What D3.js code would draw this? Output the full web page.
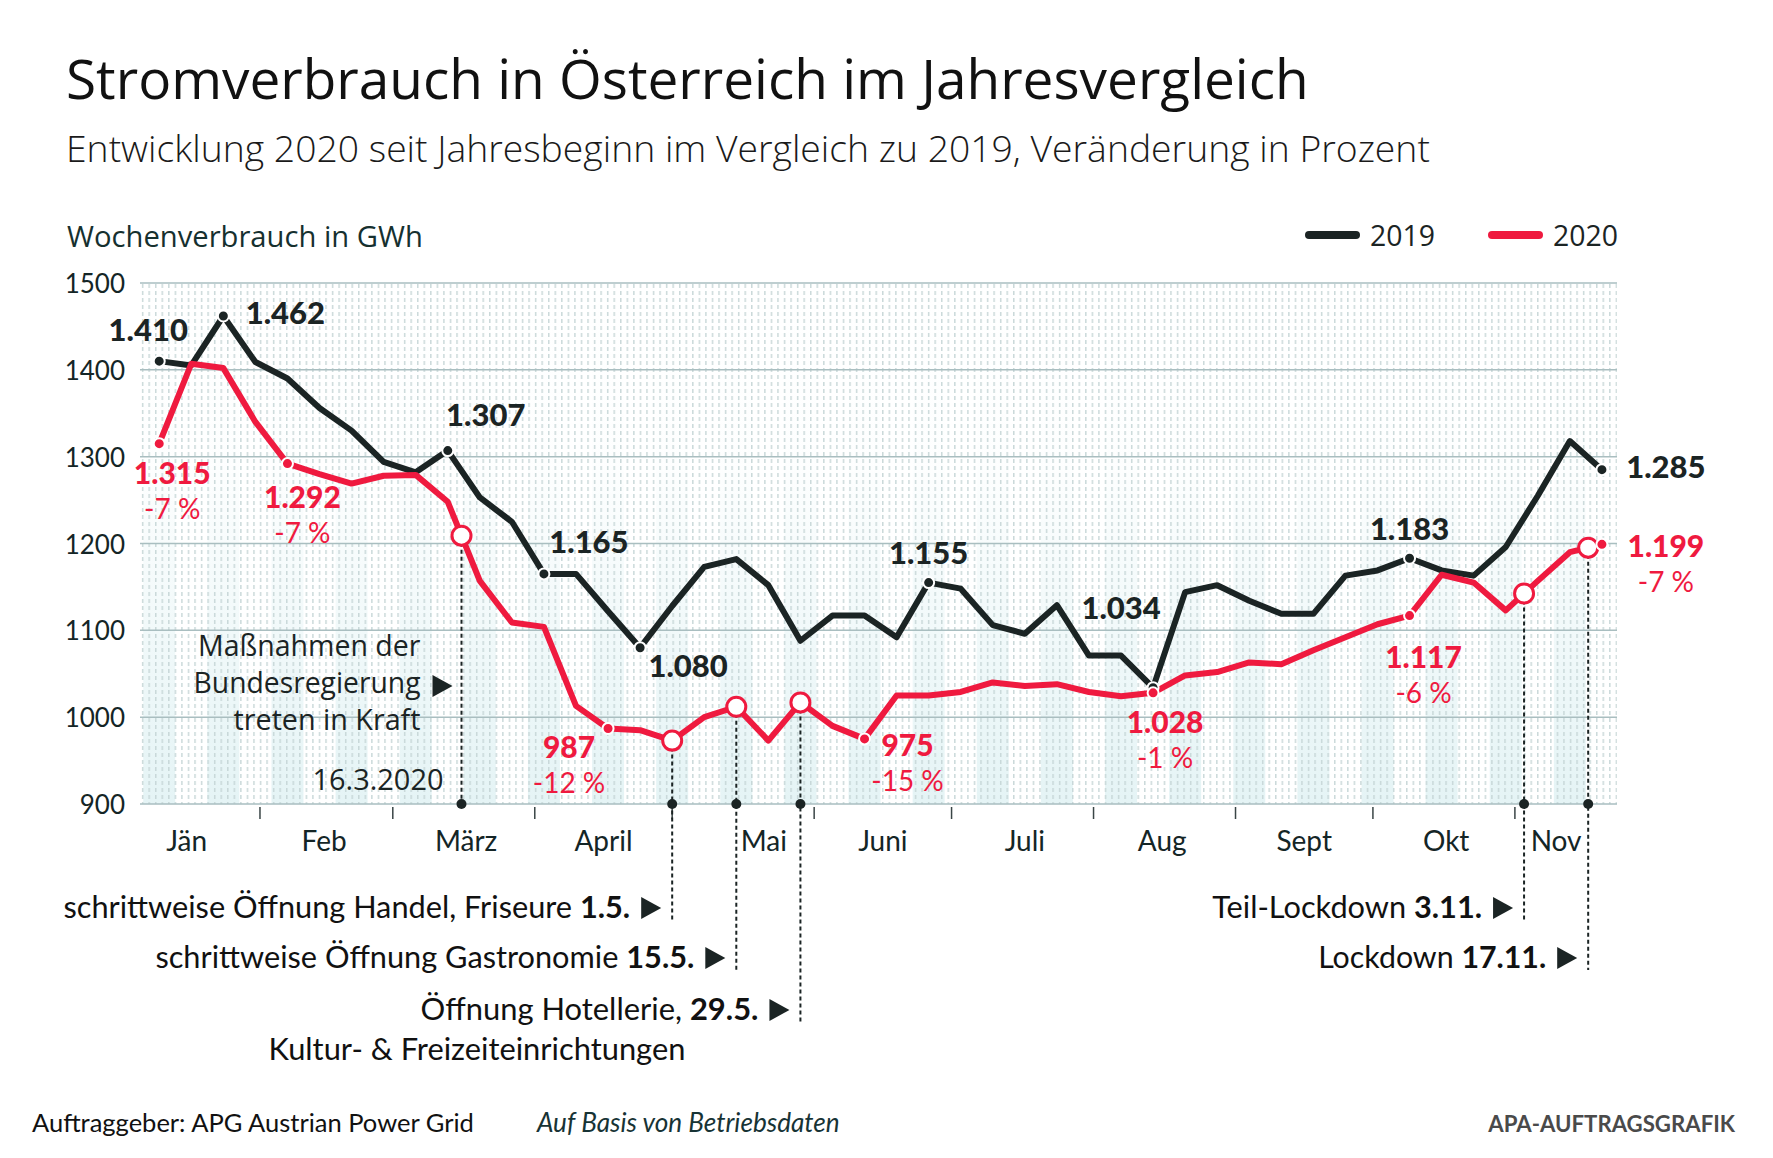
<!DOCTYPE html>
<html>
<head>
<meta charset="utf-8">
<script src="https://cdn.jsdelivr.net/npm/d3@7"></script>
<style>
body { margin: 0; background: #fff; }
svg { display: block; }
</style>
</head>
<body>
<div id="chart"></div>
<script>
// weekly consumption in GWh, first value = week ending around 10 Jan
const firstWeek = new Date(Date.UTC(2020, 0, 10));
const consumption2019 = [1410, 1405, 1462, 1409, 1390, 1356, 1330, 1294, 1282, 1307, 1253, 1225, 1165, 1165, 1122, 1080,
    1128, 1173, 1182, 1152, 1088, 1117, 1117, 1092, 1155, 1148, 1106, 1096, 1129, 1071, 1071, 1034,
    1144, 1152, 1134, 1119, 1119, 1163, 1169, 1183, 1169, 1163, 1196, 1255, 1318, 1285];
const consumption2020 = [1315, 1407, 1402, 1340, 1292, 1280, 1269, 1278, 1279, 1248, 1157, 1109, 1104, 1013, 987, 985,
    973, 1000, 1012, 973, 1017, 990, 975, 1025, 1025, 1029, 1040, 1036, 1038, 1029, 1024, 1028,
    1048, 1052, 1063, 1061, 1077, 1092, 1107, 1117, 1164, 1155, 1123, 1157, 1190, 1199];
const weeks = consumption2019.map((d, i) => d3.utcDay.offset(firstWeek, 7 * i));

const yTicks = [900, 1000, 1100, 1200, 1300, 1400, 1500];
const monthNames = ["Jän", "Feb", "März", "April", "Mai", "Juni", "Juli", "Aug", "Sept", "Okt", "Nov"];
const monthLabelDates = ["2020-01-16", "2020-02-15", "2020-03-17", "2020-04-16", "2020-05-21", "2020-06-16",
    "2020-07-17", "2020-08-16", "2020-09-16", "2020-10-17", "2020-11-10"];

// labelled points (index into the weekly series)
const labelled2019 = [0, 2, 9, 12, 15, 24, 31, 39, 45];
const labelled2020 = [0, 4, 14, 22, 31, 39, 45];
const change2020 = ["-7 %", "-7 %", "-12 %", "-15 %", "-1 %", "-6 %", "-7 %"];

const measuresNote = ["Maßnahmen der", "Bundesregierung", "treten in Kraft"];
const events = [
    { date: "2020-03-16", label: "16.3.2020" },
    { date: "2020-05-01", text: "schrittweise Öffnung Handel, Friseure ", bold: "1.5.", row: 0 },
    { date: "2020-05-15", text: "schrittweise Öffnung Gastronomie ", bold: "15.5.", row: 1 },
    { date: "2020-05-29", text: "Öffnung Hotellerie,  ", bold: "29.5.", row: 2, extra: "Kultur- & Freizeiteinrichtungen" },
    { date: "2020-11-03", text: "Teil-Lockdown ", bold: "3.11.", row: 0 },
    { date: "2020-11-17", text: "Lockdown ", bold: "17.11.", row: 1 }
];

// layout
const W = 1773, H = 1158;
const plot = { left: 140, right: 1617, top: 283, bottom: 804 };
const rowY = [918, 968, 1020];
const off2019 = [[-11, -20], [62, 8], [38, -25], [45, -21], [48, 29], [0, -19], [-32, -69], [0, -18], [64, 8]];
const off2020 = [[13, 40], [15, 44], [-39, 30], [43, 17], [12, 40], [14, 52], [64, 13]];
const pctGap = 35;
const BLACK = "#1b2424", RED = "#ef1a3f", GRID = "#a9bec0";
const BODY = "Lato, 'Open Sans', sans-serif", GEO = "'Open Sans', Lato, sans-serif";

const svg = d3.select("#chart").append("svg").attr("width", W).attr("height", H);

// widths measured on the original, used to tune font sizes
function fit(sel, w) {
    const cur = sel.node().getBBox().width;
    const fs = parseFloat(sel.attr("font-size"));
    let k = w / cur;
    k = Math.max(0.8, Math.min(1.2, k));
    sel.attr("font-size", (fs * k).toFixed(2));
    return sel;
}

const x = d3.scaleUtc()
    .domain([new Date(Date.UTC(2020, 0, 1)), new Date(Date.UTC(2020, 11, 1))])
    .range([118, 118 + 335 * 4.58]);
const y = d3.scaleLinear().domain([900, 1500]).range([plot.bottom, plot.top]);

function valueAt(values, date) {
    const t = +date;
    let i = d3.bisector(d => +d).right(weeks, t) - 1;
    i = Math.max(0, Math.min(values.length - 2, i));
    const f = (t - weeks[i]) / (weeks[i + 1] - weeks[i]);
    return values[i] + f * (values[i + 1] - values[i]);
}

// ---- defs
const defs = svg.append("defs");
const pat = defs.append("pattern").attr("id", "dots").attr("patternUnits", "userSpaceOnUse")
    .attr("x", plot.left).attr("y", plot.top).attr("width", 6.55).attr("height", 7);
pat.append("rect").attr("x", 2).attr("y", 1).attr("width", 1.3).attr("height", 4).attr("fill", "#c3d3d4");
const grad = defs.append("linearGradient").attr("id", "band").attr("x1", 0).attr("y1", 0).attr("x2", 0).attr("y2", 1);
grad.append("stop").attr("offset", "0").attr("stop-color", "#dcf0f2").attr("stop-opacity", 0);
grad.append("stop").attr("offset", "0.35").attr("stop-color", "#dcf0f2").attr("stop-opacity", 0.05);
grad.append("stop").attr("offset", "1").attr("stop-color", "#dcf0f2").attr("stop-opacity", 0.75);

// ---- header
fit(svg.append("text").attr("x", 66).attr("y", 99).attr("font-family", GEO).attr("font-size", 52)
    .attr("fill", "#111").text("Stromverbrauch in Österreich im Jahresvergleich"), 1243);
fit(svg.append("text").attr("x", 66).attr("y", 162).attr("font-family", GEO).attr("font-size", 33)
    .attr("font-weight", 300).attr("fill", "#1a1a1a")
    .text("Entwicklung 2020 seit Jahresbeginn im Vergleich zu 2019, Veränderung in Prozent"), 1364);
fit(svg.append("text").attr("x", 67).attr("y", 247).attr("font-family", GEO).attr("font-size", 29)
    .attr("fill", "#16302f").text("Wochenverbrauch in GWh"), 356);

// legend
const legend = [{ name: "2019", color: BLACK, x: 1309 }, { name: "2020", color: RED, x: 1492 }];
legend.forEach(l => {
    svg.append("line").attr("x1", l.x).attr("x2", l.x + 47).attr("y1", 235).attr("y2", 235)
        .attr("stroke", l.color).attr("stroke-width", 8).attr("stroke-linecap", "round");
    fit(svg.append("text").attr("x", l.x + 61).attr("y", 246).attr("font-family", GEO).attr("font-size", 29)
        .attr("fill", BLACK).text(l.name), 65);
});

// ---- plot background
const bg = svg.append("g");
bg.selectAll("rect.band").data(weeks.filter((d, i) => i % 2 === 0)).join("rect")
    .attr("class", "band")
    .attr("x", d => Math.max(plot.left, x(d) - 16))
    .attr("width", d => Math.min(plot.right, x(d) + 16) - Math.max(plot.left, x(d) - 16))
    .attr("y", plot.top).attr("height", plot.bottom - plot.top)
    .attr("fill", "url(#band)");
bg.append("rect").attr("x", plot.left).attr("y", plot.top)
    .attr("width", plot.right - plot.left).attr("height", plot.bottom - plot.top)
    .attr("fill", "url(#dots)");
bg.selectAll("line.grid").data(yTicks).join("line").attr("class", "grid")
    .attr("x1", plot.left).attr("x2", plot.right)
    .attr("y1", d => y(d)).attr("y2", d => y(d))
    .attr("stroke", GRID).attr("stroke-width", 1.5);

// y labels
svg.selectAll("text.ylab").data(yTicks).join("text").attr("class", "ylab")
    .attr("x", 125).attr("y", d => y(d) + 10).attr("text-anchor", "end")
    .attr("font-family", BODY).attr("font-size", 26).attr("fill", "#142526").text(d => d);

// month ticks and labels
const monthStarts = d3.utcMonths(new Date(Date.UTC(2020, 1, 1)), new Date(Date.UTC(2020, 11, 1)));
svg.selectAll("line.mtick").data(monthStarts).join("line").attr("class", "mtick")
    .attr("x1", d => x(d)).attr("x2", d => x(d)).attr("y1", 807).attr("y2", 819)
    .attr("stroke", "#3a4546").attr("stroke-width", 1.5);
svg.selectAll("text.mlab").data(monthNames).join("text").attr("class", "mlab")
    .attr("x", (d, i) => x(new Date(monthLabelDates[i] + "T00:00:00Z"))).attr("y", 851)
    .attr("text-anchor", "middle").attr("font-family", BODY).attr("font-size", 28)
    .attr("fill", "#142526").text(d => d);

// ---- event guide lines
const ev = events.map(e => {
    const d = new Date(e.date + "T00:00:00Z");
    return Object.assign({}, e, { d: d, px: x(d), py: y(valueAt(consumption2020, d)) });
});
const guides = svg.append("g");
ev.forEach(e => {
    const yEnd = e.row === undefined ? plot.bottom : rowY[e.row] + 2;
    guides.append("line").attr("x1", e.px).attr("x2", e.px).attr("y1", e.py).attr("y2", yEnd)
        .attr("stroke", BLACK).attr("stroke-width", 2).attr("stroke-dasharray", "4,3");
});

// ---- lines
const line = d3.line().x((d, i) => x(weeks[i])).y(d => y(d)).curve(d3.curveLinear);
svg.append("path").datum(consumption2019).attr("d", line).attr("fill", "none")
    .attr("stroke", BLACK).attr("stroke-width", 6).attr("stroke-linejoin", "round");
svg.append("path").datum(consumption2020).attr("d", line).attr("fill", "none")
    .attr("stroke", RED).attr("stroke-width", 6).attr("stroke-linejoin", "round");

// axis dots of the events
svg.selectAll("circle.axdot").data(ev).join("circle").attr("class", "axdot")
    .attr("cx", d => d.px).attr("cy", plot.bottom).attr("r", 5).attr("fill", BLACK);

// event circles on the 2020 line
svg.selectAll("circle.evc").data(ev).join("circle").attr("class", "evc")
    .attr("cx", d => d.px).attr("cy", d => d.py).attr("r", 9.5)
    .attr("fill", "#fff").attr("stroke", RED).attr("stroke-width", 3);

// point dots
svg.selectAll("circle.p19").data(labelled2019).join("circle").attr("class", "p19")
    .attr("cx", i => x(weeks[i])).attr("cy", i => y(consumption2019[i])).attr("r", 5.5)
    .attr("fill", BLACK).attr("stroke", "#fff").attr("stroke-width", 2);
svg.selectAll("circle.p20").data(labelled2020).join("circle").attr("class", "p20")
    .attr("cx", i => x(weeks[i])).attr("cy", i => y(consumption2020[i])).attr("r", 5.5)
    .attr("fill", RED).attr("stroke", "#fff").attr("stroke-width", 2);

// value labels
const fmt = v => v >= 1000 ? d3.format(",")(v).replace(",", ".") : String(v);
svg.selectAll("text.l19").data(labelled2019).join("text").attr("class", "l19")
    .attr("x", (i, k) => x(weeks[i]) + off2019[k][0]).attr("y", (i, k) => y(consumption2019[i]) + off2019[k][1])
    .attr("text-anchor", "middle").attr("font-family", BODY).attr("font-weight", 900).attr("font-size", 31)
    .attr("fill", BLACK).text(i => fmt(consumption2019[i]));
svg.selectAll("text.l20").data(labelled2020).join("text").attr("class", "l20")
    .attr("x", (i, k) => x(weeks[i]) + off2020[k][0]).attr("y", (i, k) => y(consumption2020[i]) + off2020[k][1])
    .attr("text-anchor", "middle").attr("font-family", BODY).attr("font-weight", 900).attr("font-size", 30)
    .attr("fill", RED).text(i => fmt(consumption2020[i]));
svg.selectAll("text.c20").data(labelled2020).join("text").attr("class", "c20")
    .attr("x", (i, k) => x(weeks[i]) + off2020[k][0]).attr("y", (i, k) => y(consumption2020[i]) + off2020[k][1] + pctGap)
    .attr("text-anchor", "middle").attr("font-family", BODY).attr("font-size", 28)
    .attr("fill", RED).text((i, k) => change2020[k]);

// ---- annotations
function triangle(xr, cy) {
    svg.append("path").attr("d", `M${xr - 20},${cy - 11}L${xr},${cy}L${xr - 20},${cy + 11}Z`).attr("fill", BLACK);
}
const first = ev[0];
const noteW = [223, 227, 187];
measuresNote.forEach((t, i) => {
    fit(svg.append("text").attr("x", first.px - 41).attr("y", 656 + 37 * i).attr("text-anchor", "end")
        .attr("font-family", GEO).attr("font-size", 26).attr("fill", BLACK).text(t), noteW[i]);
});
triangle(first.px - 9, 686);
fit(svg.append("text").attr("x", first.px - 18).attr("y", 790).attr("text-anchor", "end")
    .attr("font-family", GEO).attr("font-size", 27).attr("fill", BLACK).text(first.label), 131);

const rowW = { "1.5.": 567, "15.5.": 539, "29.5.": 338, "3.11.": 270, "17.11.": 228 };
ev.filter(e => e.row !== undefined).forEach(e => {
    const yb = rowY[e.row];
    triangle(e.px - 11, yb - 10);
    const t = svg.append("text").attr("x", e.px - 42).attr("y", yb).attr("text-anchor", "end")
        .attr("font-family", BODY).attr("font-size", 28).attr("fill", "#111");
    t.append("tspan").text(e.text);
    t.append("tspan").attr("font-weight", 700).text(e.bold);
    fit(t, rowW[e.bold]);
    if (e.extra) {
        fit(svg.append("text").attr("x", e.px - 115).attr("y", 1060).attr("text-anchor", "end")
            .attr("font-family", BODY).attr("font-size", 28).attr("fill", "#111").text(e.extra), 417);
    }
});

// ---- footer
fit(svg.append("text").attr("x", 32).attr("y", 1132).attr("font-family", BODY).attr("font-size", 23)
    .attr("fill", "#111").text("Auftraggeber: APG Austrian Power Grid"), 442);
fit(svg.append("text").attr("x", 537).attr("y", 1132).attr("font-family", BODY).attr("font-size", 23)
    .attr("font-style", "italic").attr("fill", "#173335").text("Auf Basis von Betriebsdaten"), 304);
fit(svg.append("text").attr("x", 1735).attr("y", 1132).attr("text-anchor", "end").attr("font-family", BODY)
    .attr("font-size", 23).attr("font-weight", 700).attr("fill", "#4a4a4a").text("APA-AUFTRAGSGRAFIK"), 248);
</script>
</body>
</html>
